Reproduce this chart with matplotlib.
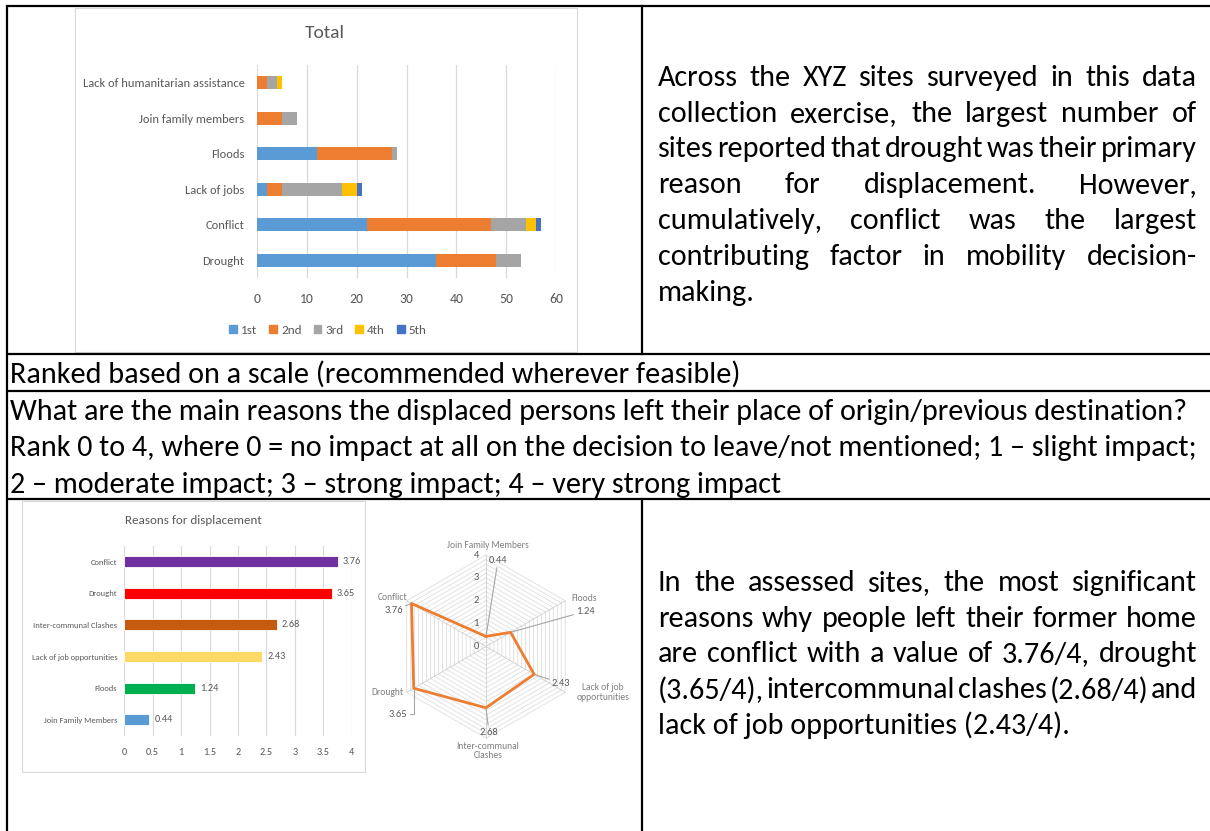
import matplotlib
matplotlib.use('Agg')
import matplotlib.pyplot as plt
import numpy as np
from matplotlib import font_manager as fm
from matplotlib.patches import Patch, Rectangle

W, H = 1210, 831

# chart 1 - "Total", stacked ranks (bottom to top)
total_cats = ['Drought', 'Conflict', 'Lack of jobs', 'Floods',
              'Join family members', 'Lack of humanitarian assistance']
rank_names = ['1st', '2nd', '3rd', '4th', '5th']
rank1 = [36, 22, 2, 12, 0, 0]
rank2 = [12, 25, 3, 15, 5, 2]
rank3 = [5, 7, 12, 1, 3, 2]
rank4 = [0, 2, 3, 0, 0, 1]
rank5 = [0, 1, 1, 0, 0, 0]
rank_colors = ['#5B9BD5', '#ED7D31', '#A5A5A5', '#FFC000', '#4472C4']

# chart 2 - "Reasons for displacement" (bottom to top)
reason_cats = ['Join Family Members', 'Floods', 'Lack of job opportunities',
               'Inter-communal Clashes', 'Drought', 'Conflict']
reason_vals = [0.44, 1.24, 2.43, 2.68, 3.65, 3.76]
reason_colors = ['#5B9BD5', '#00B050', '#FFD966', '#C55A11', '#FF0000', '#7030A0']

# radar, clockwise from the top
radar_cats = ['Join Family Members', 'Floods', 'Lack of job\nopportunities',
              'Inter-communal\nClashes', 'Drought', 'Conflict']
radar_vals = [0.44, 1.24, 2.43, 2.68, 3.65, 3.76]

row2_text = 'Ranked based on a scale (recommended wherever feasible)'
question = ['What are the main reasons the displaced persons left their place of origin/previous destination?',
            'Rank 0 to 4, where 0 = no impact at all on the decision to leave/not mentioned; 1 \u2013 slight impact;',
            '2 \u2013 moderate impact; 3 \u2013 strong impact; 4 \u2013 very strong impact']
para1 = ['Across the XYZ sites surveyed in this data',
         'collection exercise, the largest number of',
         'sites reported that drought was their primary',
         'reason for displacement. However,',
         'cumulatively, conflict was the largest',
         'contributing factor in mobility decision-',
         'making.']
para2 = ['In the assessed sites, the most significant',
         'reasons why people left their former home',
         'are conflict with a value of 3.76/4, drought',
         '(3.65/4), intercommunal clashes (2.68/4) and',
         'lack of job opportunities (2.43/4).']


def has_font(name):
    try:
        fm.findfont(fm.FontProperties(family=name), fallback_to_default=False)
        return True
    except Exception:
        return False

FONT = next(f for f in ['Carlito', 'Lato', 'Open Sans', 'DejaVu Sans'] if has_font(f))
plt.rcParams['font.family'] = [FONT, 'DejaVu Sans']

fig = plt.figure(figsize=(W / 100, H / 100), dpi=100)
rend = fig.canvas.get_renderer()


def width(s, size):
    t = fig.text(0, 0, s, fontsize=size)
    w = t.get_window_extent(rend).width
    t.remove()
    return w


def fit(s, target):
    return 10 * target / width(s, 10)


def box(l, t, r, b):
    return [l / W, 1 - b / H, (r - l) / W, (b - t) / H]


# background layer in pixel coords
bg = fig.add_axes([0, 0, 1, 1])
bg.set_xlim(0, W)
bg.set_ylim(H, 0)
bg.axis('off')

lw_t = 1.6
for y in [6, 354, 391, 499]:
    bg.plot([7, W], [y, y], color='black', lw=lw_t, solid_capstyle='butt')
bg.plot([7, 7], [6, H], color='black', lw=lw_t)
bg.plot([642, 642], [6, 354], color='black', lw=lw_t)
bg.plot([642, 642], [499, H], color='black', lw=lw_t)

bg.add_patch(Rectangle((75, 8), 502, 344, fill=False, ec='#D9D9D9', lw=0.8))
bg.add_patch(Rectangle((22, 501), 343, 271, fill=False, ec='#D9D9D9', lw=0.8))

body = fit(question[0], 1182)
em = body * 100 / 72
base = 0.36 * em


def line(x, yc, s):
    bg.text(x, yc + base, s, fontsize=body, va='baseline', ha='left', color='black')


line(10, 372, row2_text)
for i, s in enumerate(question):
    line(10, 409 + i * 36.5, s)


def justify(lines, x0, x1, y0, dy):
    for i, s in enumerate(lines):
        yc = y0 + i * dy
        words = s.split()
        if i == len(lines) - 1 or len(words) < 2:
            line(x0, yc, s)
            continue
        ws = [width(w, body) for w in words]
        gap = (x1 - x0 - sum(ws)) / (len(words) - 1)
        x = x0
        for w, wd in zip(words, ws):
            line(x, yc, w)
            x += wd + gap


justify(para1, 658, 1197, 75, 35.8)
justify(para2, 658, 1197, 580, 35.8)

gray_txt = '#595959'

# ---- chart 1
cat1 = fit('Lack of humanitarian assistance', 163)
ax1 = fig.add_axes(box(257, 65, 556, 278))
y = np.arange(len(total_cats))
left = np.zeros(len(total_cats))
for vals, c in zip([rank1, rank2, rank3, rank4, rank5], rank_colors):
    ax1.barh(y, vals, left=left, height=0.375, color=c, zorder=3)
    left += np.array(vals)
ax1.set_xlim(0, 60)
ax1.set_ylim(-0.5, len(total_cats) - 0.5)
ax1.set_xticks(range(0, 61, 10))
ax1.set_yticks(y)
ax1.set_yticklabels(total_cats)
ax1.tick_params(axis='both', length=0, labelsize=cat1, colors=gray_txt)
ax1.tick_params(axis='x', pad=11, labelsize=cat1 * 1.1)
ax1.tick_params(axis='y', pad=9)
ax1.grid(axis='x', color='#D9D9D9', lw=0.9, zorder=0)
for sp in ax1.spines.values():
    sp.set_visible(False)
bg.text(325, 33, 'Total', fontsize=fit('Total', 40), color=gray_txt, ha='center', va='center')
fig.legend([Patch(color=c) for c in rank_colors], rank_names, loc='center',
           bbox_to_anchor=(328 / W, 1 - 330 / H), ncol=5, frameon=False,
           fontsize=cat1 * 1.05, handlelength=0.6, handleheight=0.6,
           handletextpad=0.3, columnspacing=0.9, labelcolor=gray_txt)

# ---- chart 2
cat2 = fit('Inter-communal Clashes', 84)
ax2 = fig.add_axes(box(124.3, 545.7, 351.7, 735.7))
y2 = np.arange(len(reason_cats))
ax2.barh(y2, reason_vals, height=0.35, color=reason_colors, edgecolor='white', lw=0.6, zorder=3)
for yy, v in zip(y2, reason_vals):
    ax2.annotate(f'{v:.2f}', xy=(v, yy), xytext=(5, 0), textcoords='offset pixels',
                 va='center', ha='left', fontsize=cat2 * 1.2, color=gray_txt)
ax2.set_xlim(0, 4)
ax2.set_ylim(-0.5, len(reason_cats) - 0.5)
ax2.set_xticks(np.arange(0, 4.01, 0.5))
ax2.set_xticklabels(['0', '0.5', '1', '1.5', '2', '2.5', '3', '3.5', '4'])
ax2.set_yticks(y2)
ax2.set_yticklabels(reason_cats)
ax2.tick_params(axis='both', length=0, labelsize=cat2, colors=gray_txt)
ax2.tick_params(axis='x', pad=9, labelsize=cat2 * 1.2)
ax2.tick_params(axis='y', pad=5)
ax2.grid(axis='x', color='#D9D9D9', lw=0.8, zorder=0)
for sp in ax2.spines.values():
    sp.set_visible(False)
bg.text(193, 521, 'Reasons for displacement', fontsize=fit('Reasons for displacement', 136),
        color=gray_txt, ha='center', va='center')

# ---- radar
cx, cy, R = 486, 646.5, 91.5
rad = fig.add_axes(box(cx - R, cy - R, cx + R, cy + R), projection='polar')
rad.set_theta_offset(np.pi / 2)
rad.set_theta_direction(-1)
rad.set_ylim(0, 4)
rad.axis('off')
ang = np.linspace(0, 2 * np.pi, len(radar_cats), endpoint=False)
ang_c = np.append(ang, ang[0])
for r in np.arange(0.2, 4.01, 0.2):
    rad.plot(ang_c, [r] * len(ang_c), color='#DDDDDD', lw=0.6, clip_on=False)
for a in ang:
    rad.plot([a, a], [0, 4], color='#D0D0D0', lw=0.6, clip_on=False)
rad.plot(ang_c, radar_vals + radar_vals[:1], color='#ED7D31', lw=2, clip_on=False, zorder=4)

rsize = fit('Join Family Members', 82)
for r in range(5):
    rad.annotate(str(r), xy=(0, r), xytext=(-10, 0), textcoords='offset pixels',
                 ha='center', va='center', fontsize=rsize * 1.1, color=gray_txt, annotation_clip=False)

cat_off = [(2, 10), (19, 2), (38, 0), (2, -13), (-19, 0), (-14, 3)]
for a, name, off in zip(ang, radar_cats, cat_off):
    rad.annotate(name, xy=(a, 4), xytext=off, textcoords='offset pixels', ha='center', va='center',
                 fontsize=rsize, color='#7F7F7F', annotation_clip=False, linespacing=1.1)

val_off = [(12, 76), (75, 21), (27, -9), (3, -25), (-16, -26), (-18, -7)]
for a, v, off in zip(ang, radar_vals, val_off):
    cs = 'angle,angleA=0,angleB=90,rad=0' if off[1] < -20 and off[0] < -5 else 'arc3'
    rad.annotate(f'{v:.2f}', xy=(a, v), xytext=off, textcoords='offset pixels', ha='center', va='center',
                 fontsize=rsize * 1.1, color=gray_txt, annotation_clip=False,
                 arrowprops=dict(arrowstyle='-', color='#A6A6A6', lw=0.8, shrinkA=0, shrinkB=0,
                                 connectionstyle=cs))

fig.savefig('out.png', dpi=100)
